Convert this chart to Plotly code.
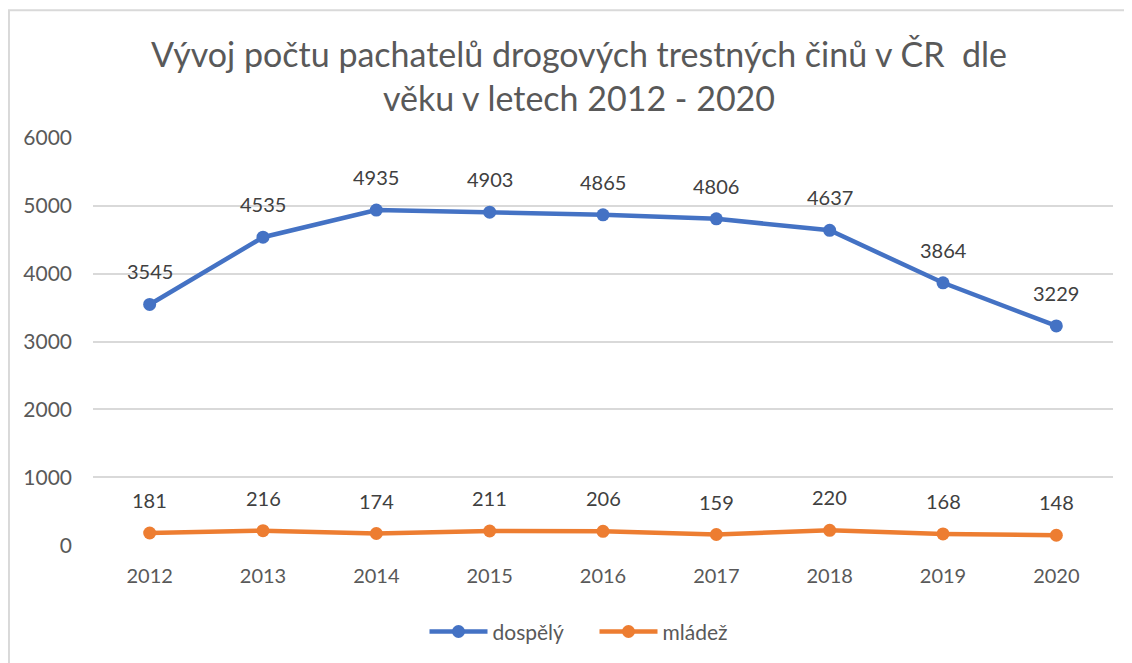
import plotly.graph_objects as go

years = ["2012", "2013", "2014", "2015", "2016", "2017", "2018", "2019", "2020"]
dospely = [3545, 4535, 4935, 4903, 4865, 4806, 4637, 3864, 3229]
mladez = [181, 216, 174, 211, 206, 159, 220, 168, 148]
y_ticks = [0, 1000, 2000, 3000, 4000, 5000, 6000]

BLUE = "#4472C4"
ORANGE = "#ED7D31"
FONT = "Lato"

fig = go.Figure()
fig.add_trace(go.Scatter(x=years, y=dospely, mode="lines+markers", name="dospělý",
                         line=dict(color=BLUE, width=4.5), marker=dict(size=13, color=BLUE)))
fig.add_trace(go.Scatter(x=years, y=mladez, mode="lines+markers", name="mládež",
                         line=dict(color=ORANGE, width=4.5), marker=dict(size=13, color=ORANGE)))

annotations = []
for series in (dospely, mladez):
    for i, v in enumerate(series):
        annotations.append(dict(x=i, y=v, xref="x", yref="y", text=str(v), showarrow=False,
                                yshift=33, font=dict(family=FONT, size=20, color="#404040")))

fig.update_layout(
    width=1124, height=655,
    paper_bgcolor="white", plot_bgcolor="white",
    margin=dict(l=85, r=19, t=129, b=116),
    title=dict(text="Vývoj počtu pachatelů drogových trestných činů v ČR  dle<br>věku v letech 2012 - 2020",
               x=0.508, xanchor="center", y=0.91, yanchor="middle",
               font=dict(family=FONT, size=34, color="#595959")),
    xaxis=dict(type="category", range=[-0.5, 8.5], showgrid=False, showline=False, zeroline=False,
               ticks="", ticklabelstandoff=16, tickfont=dict(family=FONT, size=20, color="#595959")),
    yaxis=dict(range=[-10, 6010], tickvals=y_ticks, showgrid=True, gridcolor="#D9D9D9", gridwidth=1.5,
               zeroline=False, showline=False, ticks="", ticklabelstandoff=20,
               tickfont=dict(family=FONT, size=21, color="#595959")),
    legend=dict(orientation="h", x=0.325, xanchor="left", y=-0.207, yanchor="middle",
                font=dict(family=FONT, size=21, color="#595959"),
                itemwidth=58, entrywidth=97, entrywidthmode="pixels"),
    annotations=annotations,
    showlegend=True,
)
fig.add_shape(type="rect", xref="paper", yref="paper",
              x0=-0.0824, x1=1.05, y0=-0.5, y1=1.31,
              line=dict(color="#D9D9D9", width=2), fillcolor="rgba(0,0,0,0)", layer="below")
fig.write_html("out.html")
